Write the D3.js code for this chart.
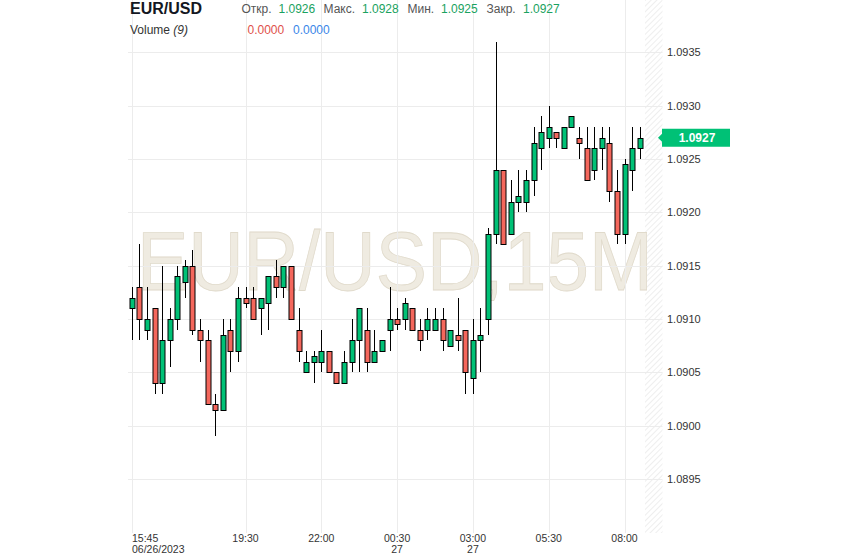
<!DOCTYPE html>
<html>
<head>
<meta charset="utf-8">
<script src="https://cdn.jsdelivr.net/npm/d3@7"></script>
<style>
  html, body { margin: 0; padding: 0; background: #ffffff; }
  svg { display: block; }
  text { font-family: Arial, "Liberation Sans", sans-serif; }
</style>
</head>
<body>
<svg id="chart" width="844" height="558"></svg>
<script>
// ---- data (15-minute EUR/USD candles, 06/26/2023 15:45 onwards) ----
const opens  = [1.0911,1.0913,1.0909,1.0911,1.0904,1.0908,1.0910,1.09135,1.0915,1.0909,
                1.0908,1.0902,1.09015,1.0909,1.0907,1.0912,1.0912,1.0911,1.09115,1.0914,
                1.0913,1.0915,1.0909,1.0905,1.0906,1.0906,1.0907,1.0905,1.0904,1.0906,
                1.0908,1.0909,1.0906,1.0907,1.0909,1.0910,1.0910,1.0911,1.0909,1.0909,
                1.0909,1.0910,1.09075,1.09085,1.0909,1.09045,1.0908,1.0910,1.0918,1.0924,
                1.0918,1.0921,1.0921,1.0923,1.0926,1.0927,1.09275,1.0926,1.0928,1.0927,
                1.0926,1.0924,1.0926,1.09265,1.0922,1.0918,1.0924,1.0926];
const highs  = [1.0913,1.0917,1.0913,1.0911,1.0915,1.0911,1.0915,1.09155,1.09165,1.0910,
                1.0909,1.0903,1.0910,1.0910,1.0913,1.0913,1.0913,1.0912,1.0914,1.09155,
                1.0915,1.0915,1.0911,1.0907,1.0907,1.0909,1.0907,1.0905,1.0907,1.0910,
                1.0911,1.0911,1.0909,1.0908,1.0913,1.0911,1.0912,1.0911,1.0910,1.0911,
                1.0911,1.0911,1.0909,1.0912,1.0909,1.0910,1.0911,1.09185,1.0936,1.0924,
                1.0923,1.0924,1.0924,1.0928,1.0929,1.0930,1.09275,1.0928,1.0929,1.0928,
                1.0928,1.0928,1.0928,1.0928,1.0924,1.0925,1.0928,1.0928];
const lows   = [1.0908,1.0908,1.0908,1.0903,1.0903,1.09055,1.0909,1.0912,1.09085,1.0906,
                1.0902,1.0899,1.09015,1.0905,1.0906,1.0911,1.0910,1.09085,1.0909,1.0912,
                1.0912,1.0910,1.0906,1.0905,1.0904,1.0905,1.0905,1.0904,1.0904,1.0905,
                1.0905,1.0905,1.0906,1.0907,1.0907,1.0909,1.0909,1.0909,1.0907,1.0908,
                1.0909,1.0907,1.09075,1.0907,1.0903,1.0903,1.0905,1.09085,1.0917,1.0917,
                1.0918,1.0920,1.0920,1.09215,1.0924,1.0926,1.0926,1.0926,1.0928,1.0925,
                1.0923,1.0923,1.0924,1.0921,1.0917,1.0917,1.0922,1.0925];
const closes = [1.0912,1.0910,1.0910,1.0904,1.0908,1.0910,1.0914,1.0915,1.0909,1.0908,
                1.0902,1.09015,1.09085,1.0907,1.0912,1.09115,1.0910,1.0912,1.0914,1.0913,
                1.0915,1.0910,1.0907,1.0906,1.09065,1.0907,1.0905,1.0904,1.0906,1.0908,
                1.0911,1.0906,1.0907,1.0908,1.0910,1.09095,1.09115,1.0909,1.0908,1.0910,
                1.0910,1.0908,1.0909,1.0908,1.0905,1.0908,1.09085,1.0918,1.0924,1.0917,
                1.0921,1.09215,1.0923,1.09265,1.09275,1.0928,1.0927,1.0928,1.0929,1.09265,
                1.0923,1.0926,1.0927,1.0922,1.0918,1.09245,1.0926,1.0927];

const priceTicks = [1.0895,1.0900,1.0905,1.0910,1.0915,1.0920,1.0925,1.0930,1.0935];
const timeTickIndex = [0, 15, 25, 35, 45, 55, 65];
const timeTickLabels = ["15:45","19:30","22:00","00:30","03:00","05:30","08:00"];
const timeTickSub    = ["06/26/2023","","","27","27","",""];

const symbol = "EUR/USD";
const watermark = "EUR/USD,15M";
const ohlcLabels = ["Откр.","Макс.","Мин.","Закр."];
const ohlcValues = ["1.0926","1.0928","1.0925","1.0927"];
const volumeValues = ["0.0000","0.0000"];
const lastPrice = 1.0927;

// ---- layout ----
const svg = d3.select("#chart");
const plotLeft = 128, plotRight = 662.5, plotTop = 0, plotBottom = 533;
const GREEN = "#00c176", RED = "#f4675c";

const candles = opens.map((o, i) => ({i, o, h: highs[i], l: lows[i], c: closes[i]}));

const x = d3.scaleLinear().domain([0, 70]).range([131.8, 662.4]);
const y = d3.scaleLinear().domain([1.0895, 1.0935]).range([479, 52.3]);

// hatch pattern for the right margin
const defs = svg.append("defs");
const pat = defs.append("pattern").attr("id", "hatch").attr("patternUnits", "userSpaceOnUse")
  .attr("width", 4).attr("height", 4).attr("patternTransform", "rotate(45)");
pat.append("rect").attr("width", 4).attr("height", 4).attr("fill", "#ffffff");
pat.append("line").attr("x1", 0).attr("y1", 0).attr("x2", 0).attr("y2", 4)
  .attr("stroke", "#e9e9e9").attr("stroke-width", 1.5);

svg.append("rect").attr("x", 645).attr("y", plotTop).attr("width", plotRight - 645)
  .attr("height", plotBottom - plotTop).attr("fill", "url(#hatch)");

// watermark (horizontally scaled to the reference width)
const wm = svg.append("text").attr("x", 0).attr("y", 0)
  .attr("font-size", 84).attr("fill", "#efebe1").attr("stroke", "#e0dacb").attr("stroke-width", 0.8)
  .text(watermark);
const wmNatural = wm.node().getComputedTextLength();
wm.attr("transform", `translate(137,290) scale(${516 / wmNatural},1)`);

// grid
const grid = svg.append("g").attr("stroke", "#ececec").attr("stroke-width", 1);
grid.selectAll("line.h").data(priceTicks).join("line")
  .attr("x1", plotLeft).attr("x2", plotRight)
  .attr("y1", d => Math.round(y(d)) + 0.5).attr("y2", d => Math.round(y(d)) + 0.5);
grid.selectAll("line.v").data(timeTickIndex).join("line")
  .attr("x1", d => Math.round(x(d)) + 0.5).attr("x2", d => Math.round(x(d)) + 0.5)
  .attr("y1", plotTop).attr("y2", plotBottom);

// y axis labels (right)
const yAxis = d3.axisRight(y).tickValues(priceTicks).tickFormat(d3.format(".4f")).tickSize(0).tickPadding(0);
const yg = svg.append("g").attr("transform", "translate(667,0)").call(yAxis);
yg.select(".domain").remove();
yg.selectAll("text").attr("font-size", 11).attr("fill", "#333").attr("font-family", "Arial, 'Liberation Sans', sans-serif");

// x axis labels
const xg = svg.append("g");
xg.selectAll("text.t").data(timeTickIndex).join("text")
  .attr("x", (d, k) => k === 0 ? Math.round(x(d)) : x(d))
  .attr("y", 542).attr("font-size", 10.5).attr("fill", "#333")
  .attr("text-anchor", (d, k) => k === 0 ? "start" : "middle")
  .text((d, k) => timeTickLabels[k]);
xg.selectAll("text.s").data(timeTickIndex).join("text")
  .attr("x", (d, k) => k === 0 ? Math.round(x(d)) : x(d))
  .attr("y", 552.5).attr("font-size", 10.5).attr("fill", "#333")
  .attr("text-anchor", (d, k) => k === 0 ? "start" : "middle")
  .text((d, k) => timeTickSub[k]);

// candles
const cg = svg.append("g");
const px = d => Math.round(x(d)) + 0.5;
cg.selectAll("line.wick").data(candles).join("line")
  .attr("x1", d => px(d.i)).attr("x2", d => px(d.i))
  .attr("y1", d => Math.round(y(d.h))).attr("y2", d => Math.round(y(d.l)))
  .attr("stroke", "#000").attr("stroke-width", 1);
cg.selectAll("rect.body").data(candles).join("rect")
  .attr("x", d => px(d.i) - 2.5).attr("width", 5)
  .attr("y", d => Math.round(y(Math.max(d.o, d.c))) + 0.5)
  .attr("height", d => Math.max(1, Math.round(y(Math.min(d.o, d.c))) - Math.round(y(Math.max(d.o, d.c)))))
  .attr("fill", d => d.c >= d.o ? GREEN : RED)
  .attr("stroke", "#000").attr("stroke-width", 1);

// last price tag
const ly = y(lastPrice);
svg.append("path")
  .attr("d", `M658,${ly} L662,${ly - 4} L662,${ly - 9} L730,${ly - 9} L730,${ly + 9} L662,${ly + 9} L662,${ly + 4} Z`)
  .attr("fill", GREEN);
svg.append("text").attr("x", 697).attr("y", ly + 4.5).attr("text-anchor", "middle")
  .attr("font-size", 12).attr("font-weight", "bold").attr("fill", "#fff")
  .text(d3.format(".4f")(lastPrice));

// header
svg.append("text").attr("x", 130).attr("y", 13.5).attr("font-size", 16).attr("font-weight", "bold")
  .attr("fill", "#131722").text(symbol);
const labelX = [241.5, 323.5, 407.5, 486.5];
const valueX = [278.5, 362, 441, 523];
ohlcLabels.forEach((t, k) => {
  svg.append("text").attr("x", labelX[k]).attr("y", 13).attr("font-size", 12).attr("fill", "#555").text(t);
  svg.append("text").attr("x", valueX[k]).attr("y", 13).attr("font-size", 12).attr("fill", "#1aa260").text(ohlcValues[k]);
});
const vt = svg.append("text").attr("x", 130).attr("y", 34).attr("font-size", 12).attr("fill", "#333");
vt.append("tspan").text("Volume ");
vt.append("tspan").attr("font-style", "italic").text("(9)");
svg.append("text").attr("x", 247.5).attr("y", 34).attr("font-size", 12).attr("fill", "#e0504a").text(volumeValues[0]);
svg.append("text").attr("x", 293).attr("y", 34).attr("font-size", 12).attr("fill", "#3a86e8").text(volumeValues[1]);
</script>
</body>
</html>
